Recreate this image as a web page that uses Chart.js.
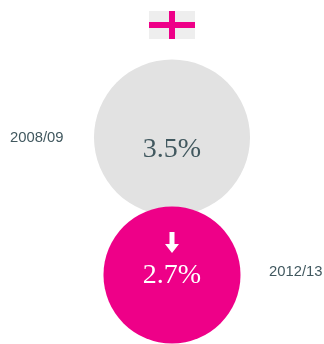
<!DOCTYPE html>
<html>
<head>
<meta charset="utf-8">
<style>
  html, body { margin: 0; padding: 0; background: #fff; }
  canvas { display: block; }
</style>
<script src="https://cdn.jsdelivr.net/npm/chart.js@4"></script>
</head>
<body>
<canvas id="bubbles" width="324" height="344"></canvas>
<script>
const periods = ["2008/09", "2012/13"];
const rates = [3.5, 2.7];
const rateLabels = ["3.5%", "2.7%"];
const bubbleColors = ["#e2e2e2", "#ee0088"];
const textColors = ["#41585f", "#ffffff"];

// circle area goes with the rate
const RADIUS_PER_ROOT = 41.7;

const annotations = {
  id: "annotations",
  afterDatasetsDraw(chart) {
    const ctx = chart.ctx;
    const xs = chart.scales.x;
    const ys = chart.scales.y;
    const cx = xs.getPixelForValue(0);

    ctx.save();

    // flag icon
    ctx.fillStyle = "#eeeeee";
    ctx.fillRect(149, 11, 46, 28);
    ctx.fillStyle = "#ee0088";
    ctx.fillRect(149, 22, 46, 6);
    ctx.fillRect(169, 11, 6, 28);

    // period labels either side of the circles
    ctx.font = '14.8px "Liberation Sans"';
    ctx.fillStyle = "#41585f";
    ctx.textBaseline = "middle";
    ctx.textAlign = "left";
    ctx.fillText(periods[0], 10, ys.getPixelForValue(0));
    ctx.fillText(periods[1], 269, ys.getPixelForValue(1) - 3);

    // rates inside the circles
    ctx.font = '28px "Liberation Serif"';
    ctx.textAlign = "center";
    ctx.textBaseline = "alphabetic";
    rateLabels.forEach((label, i) => {
      ctx.fillStyle = textColors[i];
      ctx.fillText(label, cx, ys.getPixelForValue(i) + (i === 0 ? 19.5 : 8));
    });

    // down arrow above the latest rate
    const top = ys.getPixelForValue(1) - 43;
    ctx.fillStyle = "#ffffff";
    ctx.beginPath();
    ctx.moveTo(cx - 2.5, top);
    ctx.lineTo(cx + 2.5, top);
    ctx.lineTo(cx + 2.5, top + 12);
    ctx.lineTo(cx + 7, top + 12);
    ctx.lineTo(cx, top + 21);
    ctx.lineTo(cx - 7, top + 12);
    ctx.lineTo(cx - 2.5, top + 12);
    ctx.closePath();
    ctx.fill();

    ctx.restore();
  },
};

const data = {
  datasets: [
    {
      label: "Rate",
      data: rates.map((rate, i) => ({ x: 0, y: i, r: RADIUS_PER_ROOT * Math.sqrt(rate) })),
      backgroundColor: bubbleColors,
      hoverBackgroundColor: bubbleColors,
      borderWidth: 0,
      clip: false,
    },
  ],
};

const config = {
  type: "bubble",
  data: data,
  plugins: [annotations],
  options: {
    responsive: false,
    animation: false,
    layout: { padding: 0, autoPadding: false },
    plugins: {
      legend: { display: false },
      title: { display: false },
      tooltip: { enabled: false },
    },
    scales: {
      x: { display: false, min: -172, max: 152 },
      y: { display: false, reverse: true, min: -1, max: 1.502 },
    },
  },
};

new Chart(document.getElementById("bubbles"), config);
</script>
</body>
</html>
